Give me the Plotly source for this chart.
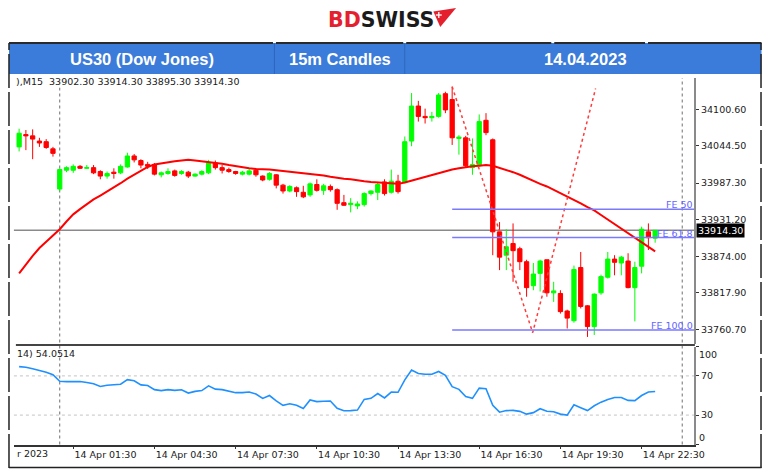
import pandas as pd
import plotly.graph_objects as go

# The page body keeps its default 8px margin; the figure is sized so the page is exactly
# 780 px wide (8 + 764 + 8) and laid out in window pixel coordinates minus that margin.
OFF = 8
W, H = 780 - 2 * OFF, 473 - OFF

# ---------------- data ----------------
bar_times = (list(pd.date_range("2023-04-13 21:30", "2023-04-13 22:45", freq="15min")) +
             list(pd.date_range("2023-04-14 01:00", "2023-04-14 23:00", freq="15min")))
bar_labels = [t.strftime("%d %b %H:%M") for t in bar_times]

open_ = [34043, 34062, 34060, 34052, 34051, 34040, 33978, 34007, 34007, 34013,
         34010, 34011, 34005, 33998, 34004, 34003, 34012, 34029, 34022, 34016,
         34016, 34000, 34002, 34006, 34002, 34004, 33998, 34001, 34003, 34018,
         34011, 34008, 34005, 34001, 34001, 34007, 33998, 33993, 34000, 33984,
         33975, 33980, 33973, 33969, 33985, 33976, 33982, 33977, 33957, 33954,
         33952, 33954, 33971, 33973, 33989, 33973, 33990, 33988, 34052, 34106,
         34090, 34088, 34090, 34125, 34116, 34056, 34057, 34011, 34014, 34084,
         34054, 33912, 33876, 33894, 33886, 33866, 33829, 33848, 33869, 33818,
         33817, 33790, 33775, 33857, 33798, 33766, 33818, 33842, 33870, 33864,
         33867, 33826, 33859, 33912, 33902.3]
high = [34071, 34069, 34070, 34057, 34055, 34043, 34010, 34013, 34016, 34015,
        34015, 34015, 34007, 34005, 34010, 34016, 34034, 34032, 34024, 34020,
        34018, 34005, 34010, 34008, 34007, 34006, 34002, 34007, 34023, 34022,
        34015, 34011, 34006, 34006, 34009, 34010, 33999, 34004, 34001, 33986,
        33984, 33982, 33983, 33988, 33993, 33986, 33985, 33979, 33969, 33964,
        33959, 33973, 33976, 33989, 33993, 34008, 34000, 34059, 34126, 34114,
        34102, 34097, 34126, 34128, 34136, 34061, 34060, 34056, 34093, 34095,
        34056, 33927, 33916, 33925, 33889, 33869, 33864, 33869, 33869, 33835,
        33822, 33792, 33860, 33881, 33799, 33817, 33846, 33881, 33876, 33875,
        33879, 33866, 33920, 33925, 33914.3]
low = [34036, 34038, 34024, 34043, 34040, 34028, 33975, 34004, 34003, 34009,
       34009, 34001, 33993, 33994, 33994, 34001, 34011, 34019, 34010, 34009,
       33999, 33996, 34000, 33997, 34000, 33995, 33997, 33999, 34001, 34008,
       34002, 34003, 34000, 33999, 33999, 33997, 33990, 33991, 33979, 33971,
       33973, 33966, 33964, 33966, 33974, 33969, 33974, 33946, 33952, 33942,
       33947, 33951, 33968, 33961, 33968, 33971, 33971, 33987, 34044, 34082,
       34079, 34082, 34088, 34095, 34046, 34031, 34012, 34000, 34013, 34061,
       33876, 33853, 33853, 33835, 33853, 33812, 33822, 33820, 33812, 33804,
       33786, 33763, 33772, 33794, 33750, 33753, 33815, 33840, 33845, 33845,
       33825, 33774, 33848, 33884, 33895.3]
close = [34064, 34060, 34055, 34049, 34042, 34033, 34008, 34011, 34013, 34010,
         34011, 34003, 33998, 34002, 34002, 34013, 34029, 34023, 34015, 34013,
         34001, 34003, 34005, 33999, 34005, 33998, 34001, 34005, 34018, 34011,
         34007, 34005, 34002, 34004, 34006, 34000, 33992, 34002, 33984, 33975,
         33982, 33974, 33966, 33986, 33976, 33983, 33977, 33956, 33953, 33956,
         33955, 33971, 33975, 33985, 33971, 33990, 33974, 34051, 34106, 34090,
         34088, 34090, 34123, 34100, 34057, 34058, 34014, 34016, 34082, 34065,
         33912, 33873, 33889, 33883, 33866, 33826, 33847, 33867, 33818, 33821,
         33789, 33779, 33854, 33797, 33766, 33816, 33843, 33870, 33865, 33873,
         33826, 33857, 33916, 33903, 33914.3]
ma = [33848, 33862, 33875, 33887, 33897, 33907, 33916, 33928, 33939, 33947,
      33955, 33962, 33968, 33974, 33980, 33987, 33994, 34000, 34006, 34012,
      34016, 34018, 34020, 34021, 34022, 34023, 34022, 34021, 34019, 34018,
      34017, 34015, 34013, 34011, 34010, 34009, 34009, 34008, 34007, 34006,
      34005, 34004, 34003, 34002, 34000, 33999, 33997, 33995, 33994, 33993,
      33991, 33990, 33989, 33988, 33987, 33986, 33986, 33988, 33991, 33994,
      33996, 33999, 34002, 34006, 34008, 34010, 34012, 34013, 34014, 34015,
      34014, 34011, 34007, 34004, 34000, 33995, 33990, 33986, 33982, 33977,
      33972, 33966, 33961, 33956, 33950, 33945, 33938, 33931, 33925, 33918,
      33911, 33903, 33896, 33889, 33882]
rsi = [79.5, 78.8, 77.2, 75.8, 73.8, 71.2, 64.5, 64.2, 64.3, 64.2,
       63.2, 62.0, 59.2, 60.5, 61.0, 61.5, 66.2, 65.0, 60.8, 60.2,
       56.0, 55.0, 56.0, 55.2, 55.8, 52.5, 54.2, 55.0, 59.8, 56.5,
       56.0, 54.2, 52.9, 52.9, 53.5, 51.5, 47.0, 50.0, 44.5, 40.0,
       41.5, 40.0, 36.8, 45.5, 43.8, 44.2, 44.4, 37.0, 34.5, 34.6,
       35.1, 46.0, 47.1, 52.0, 47.5, 53.5, 53.3, 66.0, 76.0, 72.5,
       71.7, 71.7, 74.5, 70.5, 59.0, 56.3, 49.0, 47.1, 57.5, 57.0,
       40.0, 33.0, 34.6, 34.8, 33.8, 31.0, 32.5, 36.5, 34.0, 33.4,
       31.0, 30.0, 40.5, 37.5, 34.6, 39.5, 43.2, 46.0, 47.9, 48.0,
       45.0, 44.8, 50.0, 53.5, 54.0514]

price_tick_vals = [34100.60, 34044.50, 33987.30, 33931.20, 33874.00, 33817.90, 33760.70]
price_tick_text = ["34100.60", "34044.50", "33987.30", "33931.20", "33874.00", "33817.90", "33760.70"]
time_tick_text = ["14 Apr 01:30", "14 Apr 04:30", "14 Apr 07:30", "14 Apr 10:30",
                  "14 Apr 13:30", "14 Apr 16:30", "14 Apr 19:30", "14 Apr 22:30"]
rsi_levels = [70, 30]
last_price = 33914.30
last_ohlc_text = "),M15  33902.30 33914.30 33895.30 33914.30"
rsi_text = "14) 54.0514"

fe_names = ["FE 50", "FE 61.8", "FE 100.0"]
fe_levels = [33946.7, 33903.2, 33760.7]
fe_anchor_idx = [64, 75.9, 85.2]
fe_anchor_price = [34135.8, 33756.6, 34133.0]

day_sep_idx = [bar_labels.index("14 Apr 01:00"), 98]

# ---------------- helpers / layout constants ----------------
def px(x):
    return (x - OFF) / W

def py(y):
    return 1 - (y - OFF) / H

RIGHT = OFF + W - 0.5   # last visible window pixel column
x_idx = list(range(len(bar_labels)))
x_range = [-0.77, 99.8]
price_range = [33739.1, 34149.2]
tick_idx = [bar_labels.index(s) for s in time_tick_text]

FONT = "DejaVu Sans"
TXT = "#1a1a1a"

fig = go.Figure()

fig.add_trace(go.Candlestick(
    x=x_idx, open=open_, high=high, low=low, close=close,
    increasing=dict(line=dict(color="#00ff00", width=1), fillcolor="#00ff00"),
    decreasing=dict(line=dict(color="#ff0000", width=1), fillcolor="#ff0000"),
    whiskerwidth=0, xaxis="x", yaxis="y", showlegend=False, hoverinfo="skip"))

fig.add_trace(go.Scatter(x=x_idx, y=ma, mode="lines",
                         line=dict(color="#ff0000", width=2),
                         xaxis="x", yaxis="y", showlegend=False, hoverinfo="skip"))

# Fibonacci expansion anchor lines (dotted red)
fig.add_trace(go.Scatter(x=fe_anchor_idx, y=fe_anchor_price, mode="lines",
                         line=dict(color="#ff3b3b", width=1.5, dash="dot"),
                         xaxis="x", yaxis="y", showlegend=False, hoverinfo="skip"))

# FE levels
for name, lvl in zip(fe_names, fe_levels):
    fig.add_trace(go.Scatter(x=[fe_anchor_idx[0], x_range[1]], y=[lvl, lvl], mode="lines",
                             line=dict(color="#7a7aff", width=1.5),
                             xaxis="x", yaxis="y", showlegend=False, hoverinfo="skip"))

fig.add_trace(go.Scatter(x=x_idx, y=rsi, mode="lines",
                         line=dict(color="#1e90ff", width=1.6),
                         xaxis="x2", yaxis="y2", showlegend=False, hoverinfo="skip"))

shapes = []
# current price line
shapes.append(dict(type="line", xref="x domain", yref="y", x0=0, x1=1,
                   y0=last_price, y1=last_price, line=dict(color="#8a8a8a", width=1.5), layer="below"))
# RSI level lines
for lv in rsi_levels:
    shapes.append(dict(type="line", xref="x2 domain", yref="y2", x0=0, x1=1, y0=lv, y1=lv,
                       line=dict(color="#c4c4c4", width=1, dash="dot"), layer="below"))
# day separators
for d in day_sep_idx:
    shapes.append(dict(type="line", xref="x", yref="paper", x0=d, x1=d,
                       y0=py(444.5), y1=py(78), line=dict(color="#707070", width=1, dash="dot"),
                       layer="below"))
# pane separator
shapes.append(dict(type="line", xref="paper", yref="paper", x0=px(16), x1=px(704),
                   y0=py(345), y1=py(345), line=dict(color="#444444", width=2)))

# banner
shapes.append(dict(type="rect", xref="paper", yref="paper", x0=px(9), x1=px(RIGHT),
                   y0=py(74), y1=py(43), fillcolor="#3b7bd9", line=dict(width=0), layer="below"))
for a, b in [(9, 276.5), (279.5, 408.5), (411.5, 558.5), (561.5, 653.5), (656.5, RIGHT)]:
    shapes.append(dict(type="line", xref="paper", yref="paper", x0=px(a), x1=px(b),
                       y0=py(43), y1=py(43), line=dict(color="#2a2a2a", width=2)))
for xd in [278, 410]:
    shapes.append(dict(type="line", xref="paper", yref="paper", x0=px(xd), x1=px(xd),
                       y0=py(74), y1=py(43), line=dict(color="#2f66bd", width=1)))
# outer frame
for xf in [9, RIGHT - 0.5]:
    shapes.append(dict(type="line", xref="paper", yref="paper", x0=px(xf), x1=px(xf),
                       y0=py(468), y1=py(43), line=dict(color="#222222", width=1.5, dash="34px,4px")))
shapes.append(dict(type="line", xref="paper", yref="paper", x0=px(9), x1=px(RIGHT),
                   y0=py(467.5), y1=py(467.5), line=dict(color="#222222", width=1.5)))
# logo icon
shapes.append(dict(type="path", xref="paper", yref="paper",
                   path="M {} {} L {} {} L {} {} Z".format(px(439), py(11.5), px(462), py(8), px(446), py(27)),
                   fillcolor="#e5202e", line=dict(width=0)))
shapes.append(dict(type="line", xref="paper", yref="paper", x0=px(441.5), x1=px(447.5),
                   y0=py(15), y1=py(15), line=dict(color="white", width=1.3)))
shapes.append(dict(type="line", xref="paper", yref="paper", x0=px(444.5), x1=px(444.5),
                   y0=py(12), y1=py(18), line=dict(color="white", width=1.3)))

ann = []
ann.append(dict(xref="paper", yref="paper", x=px(386), y=py(19.5), xanchor="center", yanchor="middle",
                text="<b><span style='color:#e5202e'>BD</span><span style='color:#1b1b1b'>SWISS</span></b>",
                showarrow=False, font=dict(family=FONT, size=20.5)))
for t, cx in [("US30 (Dow Jones)", 143.5), ("15m Candles", 344), ("14.04.2023", 593)]:
    ann.append(dict(xref="paper", yref="paper", x=px(cx), y=py(59.5), xanchor="center", yanchor="middle",
                    text="<b>" + t + "</b>", showarrow=False,
                    font=dict(family="Liberation Sans", size=16.5, color="white")))
ann.append(dict(xref="paper", yref="paper", x=px(15), y=py(81.5), xanchor="left", yanchor="middle",
                text=last_ohlc_text, showarrow=False, bgcolor="white", borderpad=0,
                font=dict(family=FONT, size=9.5, color=TXT)))
ann.append(dict(xref="paper", yref="paper", x=px(15), y=py(353.5), xanchor="left", yanchor="middle",
                text=rsi_text, showarrow=False, font=dict(family=FONT, size=9.5, color=TXT)))
ann.append(dict(xref="paper", yref="paper", x=px(15), y=py(453), xanchor="left", yanchor="middle",
                text="r 2023", showarrow=False, font=dict(family=FONT, size=9.5, color=TXT)))
for name, lvl in zip(fe_names, fe_levels):
    ann.append(dict(xref="x", yref="y", x=x_range[1], y=lvl, xanchor="right", yanchor="bottom",
                    text=name, showarrow=False, borderpad=0, yshift=-2,
                    font=dict(family=FONT, size=9.5, color="#6464ff")))
ann.append(dict(xref="paper", yref="y", x=px(705), y=last_price, xanchor="left", yanchor="middle",
                text=f"{last_price:.2f}", showarrow=False, bgcolor="black", borderpad=1,
                font=dict(family=FONT, size=9.5, color="white")))
ann.append(dict(xref="paper", yref="y2", x=px(706), y=100, xanchor="left", yanchor="top",
                text="100", showarrow=False, font=dict(family=FONT, size=9.5, color=TXT)))
ann.append(dict(xref="paper", yref="y2", x=px(706), y=0, xanchor="left", yanchor="bottom",
                text="0", showarrow=False, font=dict(family=FONT, size=9.5, color=TXT)))

xdom = [px(14), px(703.5)]
fig.update_layout(
    width=W, height=H, margin=dict(l=0, r=0, t=0, b=0),
    paper_bgcolor="white", plot_bgcolor="white",
    boxgap=0.3, boxgroupgap=0.1,
    font=dict(family=FONT, size=9.5, color=TXT),
    shapes=shapes, annotations=ann,
    xaxis=dict(domain=xdom, range=x_range, anchor="y", showticklabels=False, showgrid=False,
               zeroline=False, showline=False, ticks="", rangeslider=dict(visible=False), fixedrange=True),
    yaxis=dict(domain=[py(344), py(78)], range=price_range, side="right", anchor="x",
               tickvals=price_tick_vals, ticktext=price_tick_text, ticks="outside", ticklen=3,
               tickcolor="#333", showline=True, linecolor="#8a8a8a", linewidth=1.5,
               showgrid=False, zeroline=False, tickfont=dict(family=FONT, size=9.5, color=TXT)),
    xaxis2=dict(domain=xdom, range=x_range, anchor="y2", matches="x", tickvals=tick_idx,
                ticktext=time_tick_text, ticklabelposition="outside right", ticks="outside",
                ticklen=3, tickcolor="#333", showline=True, linecolor="#333333", linewidth=1.5,
                showgrid=False, zeroline=False, tickfont=dict(family=FONT, size=9.5, color=TXT)),
    yaxis2=dict(domain=[py(444.5), py(346.5)], range=[0, 100], side="right", anchor="x2",
                tickvals=[100, 70, 30, 0], ticktext=["", "70", "30", ""], ticks="outside", ticklen=3,
                tickcolor="#333", showline=True, linecolor="#8a8a8a", linewidth=1.5,
                showgrid=False, zeroline=False, tickfont=dict(family=FONT, size=9.5, color=TXT)),
)

fig.write_html("out.html", config={"displayModeBar": False})
